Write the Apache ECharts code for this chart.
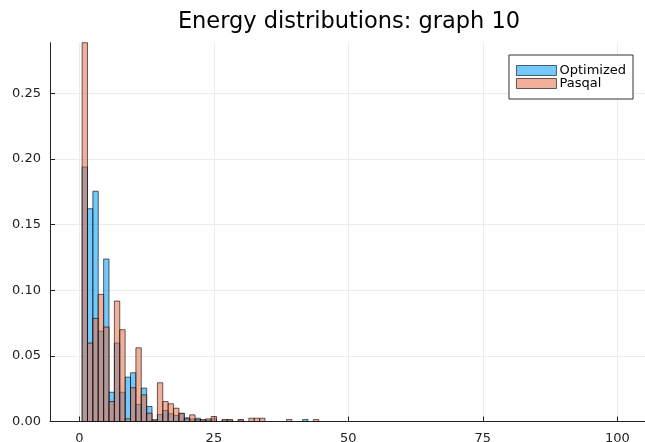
<!DOCTYPE html>
<html>
<head>
<meta charset="utf-8">
<script src="https://cdn.jsdelivr.net/npm/echarts@6/dist/echarts.min.js"></script>
<style>
  html, body { margin: 0; padding: 0; background: #ffffff; }
  #chart { width: 645px; height: 442px; }
</style>
</head>
<body>
<div id="chart"></div>
<script>
// Histogram bins: unit-width bins centred on integer energies
const binCenters = [1, 2, 3, 4, 5, 6, 7, 8, 9, 10, 11, 12, 13, 14, 15, 16, 17, 18, 19, 20, 21, 22,
  23, 24, 25, 26, 27, 28, 29, 30, 31, 32, 33, 34, 35, 36, 37, 38, 39, 40, 41, 42, 43, 44];

// Normalised frequency per bin
const optimized = [0.1938, 0.1620, 0.1753, 0.0688, 0.1237, 0.0223, 0.0597, 0.0223, 0.0338, 0.0371,
  0.0130, 0.0254, 0.0114, 0.0010, 0.0053, 0.0084, 0.0059, 0.0046, 0.0060, 0.0028, 0.0019, 0.0025,
  0.0013, 0.0010, 0.0020, 0, 0.0010, 0.0010, 0, 0.0010, 0, 0, 0, 0, 0, 0, 0, 0, 0, 0, 0, 0.0015, 0, 0];
const pasqal = [0.2884, 0.0597, 0.0785, 0.0968, 0.0719, 0.0152, 0.0917, 0.0699, 0.0020, 0.0257,
  0.0561, 0.0203, 0.0063, 0.0013, 0.0295, 0.0152, 0.0135, 0.0101, 0.0063, 0.0020, 0.0051, 0.0013,
  0.0013, 0.0020, 0.0038, 0, 0.0015, 0.0015, 0, 0.0015, 0, 0.0025, 0.0025, 0.0025, 0, 0, 0, 0,
  0.0015, 0, 0, 0, 0, 0.0015];

const seriesNames = ['Optimized', 'Pasqal'];
const xTicks = [0, 25, 50, 75, 100];
const yTicks = [0, 0.05, 0.10, 0.15, 0.20, 0.25];

const FONT = 'DejaVu Sans';
const FILL = ['rgba(0,154,250,0.55)', 'rgba(227,111,71,0.55)'];
const STROKE = 'rgba(0,0,0,0.6)';

function histItem(fill) {
  return function (params, api) {
    const c = api.value(0);
    const v = api.value(1);
    if (!v) return null;
    const p0 = api.coord([c - 0.5, v]);
    const p1 = api.coord([c + 0.5, 0]);
    return {
      type: 'rect',
      shape: { x: p0[0], y: p0[1], width: p1[0] - p0[0], height: p1[1] - p0[1] },
      style: { fill: fill, stroke: STROKE, lineWidth: 1 }
    };
  };
}

const chart = echarts.init(document.getElementById('chart'), null, { renderer: 'canvas' });

chart.setOption({
  animation: false,
  backgroundColor: '#ffffff',
  title: {
    text: 'Energy distributions: graph 10',
    left: 349,
    top: 11,
    padding: 0,
    textAlign: 'center',
    textStyle: { fontFamily: FONT, fontSize: 22.5, fontWeight: 'normal', color: '#000' }
  },
  legend: {
    orient: 'vertical',
    right: 12,
    top: 55,
    padding: [9, 7, 9, 7],
    itemGap: 0,
    itemWidth: 40,
    itemHeight: 10,
    icon: 'rect',
    backgroundColor: '#ffffff',
    borderColor: '#333333',
    borderWidth: 1,
    borderRadius: 0,
    textStyle: { fontFamily: FONT, fontSize: 13, color: '#000', lineHeight: 12.5, padding: [0, 0, 0, -2] },
    data: seriesNames.map((n, i) => ({
      name: n,
      itemStyle: { color: FILL[i], borderColor: STROKE, borderWidth: 1 }
    }))
  },
  grid: { left: 50, right: 0, top: 42.7, bottom: 20.5, outerBoundsMode: 'none', containLabel: false },
  xAxis: {
    type: 'value',
    min: -5.47,
    max: 105.15,
    axisLine: { show: true, onZero: false, lineStyle: { color: '#222', width: 1 } },
    axisTick: { show: true, inside: true, length: 5, customValues: xTicks, lineStyle: { color: '#222' } },
    axisLabel: {
      customValues: xTicks,
      margin: 11,
      fontFamily: FONT, fontSize: 13, color: '#222',
      formatter: v => String(v)
    },
    splitLine: { show: true, lineStyle: { color: '#ebebeb', width: 1 } }
  },
  yAxis: {
    type: 'value',
    min: 0,
    max: 0.2884,
    axisLine: { show: true, onZero: false, lineStyle: { color: '#222', width: 1 } },
    axisTick: { show: true, inside: true, length: 5, customValues: yTicks, lineStyle: { color: '#222' } },
    axisLabel: {
      customValues: yTicks,
      margin: 9,
      fontFamily: FONT, fontSize: 13, color: '#222',
      formatter: v => v.toFixed(2)
    },
    splitLine: { show: true, showMinLine: false, lineStyle: { color: '#ebebeb', width: 1 } }
  },
  series: seriesNames.map((n, i) => ({
    name: n,
    type: 'custom',
    renderItem: histItem(FILL[i]),
    encode: { x: 0, y: 1 },
    itemStyle: { color: FILL[i] },
    data: binCenters.map((c, k) => [c, i === 0 ? optimized[k] : pasqal[k]])
  }))
});
</script>
</body>
</html>
